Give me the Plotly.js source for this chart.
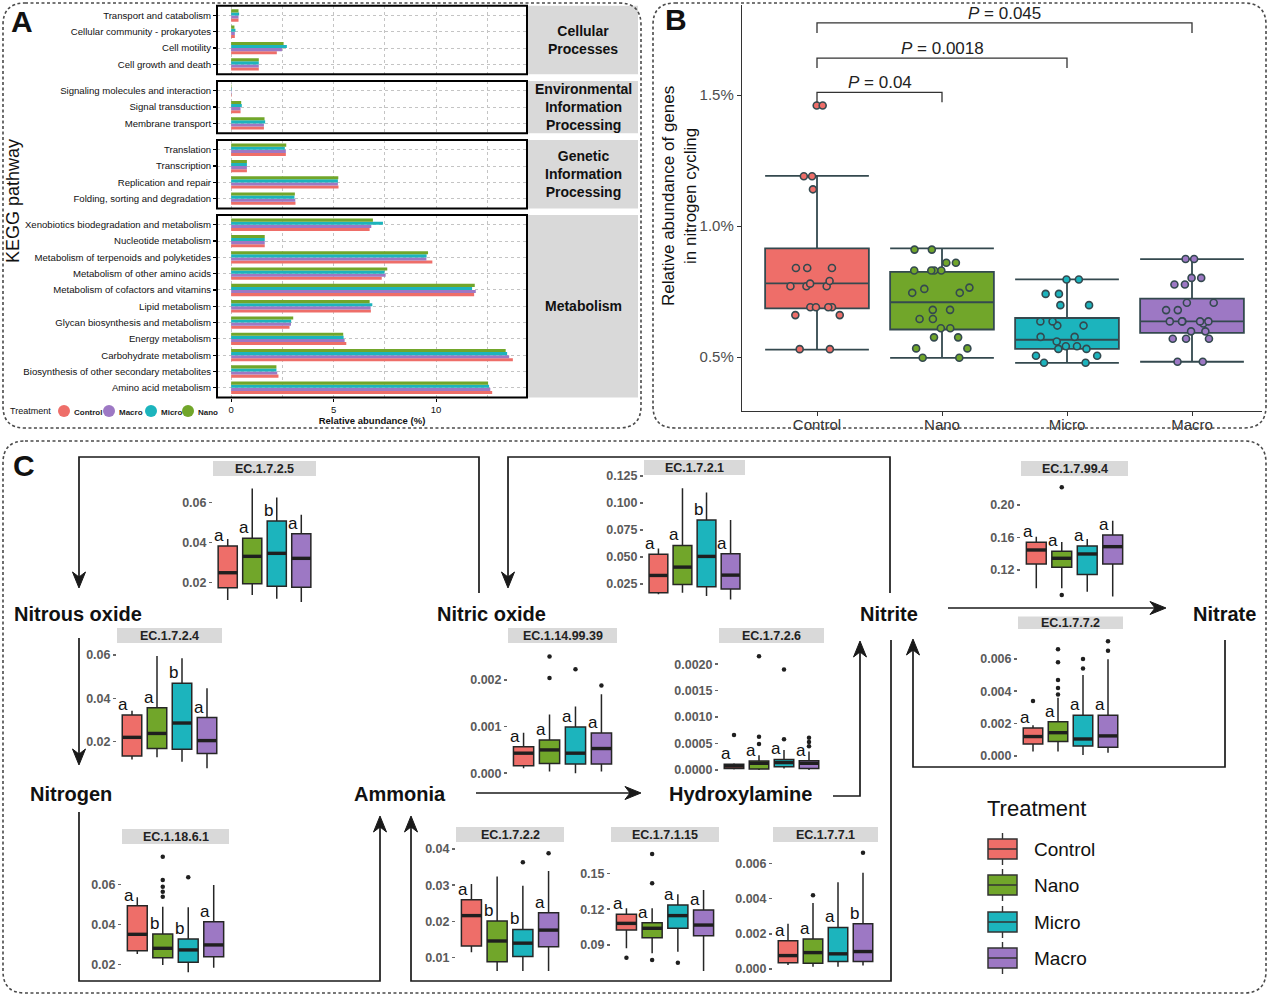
<!DOCTYPE html>
<html><head><meta charset="utf-8">
<script src="https://cdn.plot.ly/plotly-3.0.1.min.js"></script>
<style>html,body{margin:0;padding:0;background:#fff;} #chart{width:1269px;height:995px;}</style>
</head><body><div id="chart"></div>
<script>
const W = 1269, H = 995;
const FONT = 'Liberation Sans, Arial, sans-serif';

// ---------------- Panel A data ----------------
const pathways = [
  'Transport and catabolism','Cellular community - prokaryotes','Cell motility','Cell growth and death',
  'Signaling molecules and interaction','Signal transduction','Membrane transport',
  'Translation','Transcription','Replication and repair','Folding, sorting and degradation',
  'Xenobiotics biodegradation and metabolism','Nucleotide metabolism','Metabolism of terpenoids and polyketides',
  'Metabolism of other amino acids','Metabolism of cofactors and vitamins','Lipid metabolism',
  'Glycan biosynthesis and metabolism','Energy metabolism','Carbohydrate metabolism',
  'Biosynthesis of other secondary metabolites','Amino acid metabolism'];
const facetLabels = ['Cellular<br>Processes','Environmental<br>Information<br>Processing','Genetic<br>Information<br>Processing','Metabolism'];
const facetSizes = [4, 3, 4, 11];
const treatmentsA = ['Control', 'Macro', 'Micro', 'Nano'];
const abundControl = [0.36,0.18,2.23,1.35, 0.02,0.46,1.60, 2.67,0.77,5.24,3.14, 6.76,1.64,9.82,7.35,11.86,6.82,2.85,5.62,13.75,2.31,12.74];
const abundMacro   = [0.36,0.18,2.48,1.35, 0.02,0.46,1.60, 2.67,0.77,5.21,3.13, 6.84,1.64,9.53,7.54,11.94,6.81,2.92,5.54,13.57,2.25,12.65];
const abundMicro   = [0.39,0.21,2.72,1.35, 0.02,0.52,1.66, 2.62,0.77,5.21,3.09, 7.41,1.64,9.54,7.49,11.76,6.89,2.93,5.49,13.47,2.21,12.59];
const abundNano    = [0.36,0.16,2.56,1.35, 0.02,0.49,1.63, 2.69,0.77,5.23,3.11, 6.92,1.64,9.61,7.62,11.89,6.76,3.03,5.47,13.40,2.21,12.54];

// ---------------- Panel B data ----------------
const groups = ['Control', 'Nano', 'Micro', 'Macro'];
const bQ1  = [0.686, 0.605, 0.531, 0.592];
const bMed = [0.781, 0.709, 0.566, 0.636];
const bQ3  = [0.915, 0.825, 0.649, 0.723];
const bLow = [0.528, 0.497, 0.478, 0.482];
const bHigh= [1.191, 0.915, 0.796, 0.874];
const bPtsControl = [1.46,1.46,1.19,1.19,1.14,0.84,0.84,0.84,0.79,0.78,0.77,0.77,0.77,0.69,0.69,0.69,0.69,0.66,0.66,0.53,0.53];
const bPtsNano  = [0.91,0.91,0.86,0.86,0.83,0.83,0.83,0.83,0.765,0.76,0.745,0.745,0.68,0.68,0.645,0.645,0.61,0.61,0.575,0.575,0.533,0.533,0.497,0.497];
const bPtsMicro = [0.796,0.796,0.741,0.741,0.698,0.698,0.636,0.636,0.62,0.62,0.577,0.577,0.559,0.541,0.541,0.531,0.531,0.505,0.505,0.478,0.478];
const bPtsMacro = [0.874,0.874,0.802,0.802,0.777,0.777,0.707,0.707,0.679,0.679,0.636,0.636,0.636,0.636,0.636,0.628,0.598,0.598,0.57,0.57,0.57,0.482,0.482];
const bTickVals = [0.5, 1.0, 1.5];
const bTickText = ['0.5%', '1.0%', '1.5%'];
const pPairs = [[0, 1], [0, 2], [0, 3]];
const pLabels = ['0.04', '0.0018', '0.045'];
const pHeights = [1.51, 1.641, 1.775];

// ---------------- Panel C data ----------------
const ecNames = ['EC.1.7.2.5','EC.1.7.2.4','EC.1.7.2.1','EC.1.7.99.4','EC.1.7.7.2','EC.1.14.99.39','EC.1.7.2.6','EC.1.18.6.1','EC.1.7.2.2','EC.1.7.1.15','EC.1.7.7.1'];
const ecQ1 = [
  [0.0173,0.0193,0.018,0.0175],[0.0134,0.0169,0.0165,0.0146],[0.017,0.0247,0.0225,0.0204],
  [0.1274,0.1233,0.1143,0.1274],[0.00074,0.00089,0.00062,0.00054],[0.00016,0.00021,0.0002,0.0002],
  [0.00003,0.00002,0.00006,0.00003],[0.0268,0.0233,0.021,0.0238],[0.0132,0.0089,0.0103,0.013],
  [0.1026,0.0961,0.104,0.0978],[0.00036,0.00032,0.00042,0.00042]];
const ecMed = [
  [0.0248,0.033,0.0345,0.032],[0.022,0.0238,0.0286,0.0205],[0.033,0.0407,0.0506,0.0333],
  [0.1446,0.1344,0.1397,0.1487],[0.0012,0.00144,0.00105,0.00124],[0.00043,0.0005,0.00043,0.00053],
  [0.000075,0.000126,0.00014,0.000126],[0.035,0.028,0.0272,0.0297],[0.0216,0.0146,0.014,0.0176],
  [0.1081,0.104,0.1146,0.1067],[0.00076,0.00093,0.00086,0.00099]];
const ecQ3 = [
  [0.0382,0.042,0.0507,0.0443],[0.0323,0.0357,0.0469,0.0311],[0.0525,0.0608,0.0843,0.0531],
  [0.154,0.143,0.1495,0.163],[0.00173,0.00212,0.00252,0.00252],[0.00057,0.00071,0.00099,0.00086],
  [0.000107,0.00017,0.0002,0.000176],[0.0493,0.0352,0.0327,0.0413],[0.026,0.0201,0.0178,0.0224],
  [0.1157,0.1087,0.1235,0.1193],[0.0016,0.00171,0.00236,0.00257]];
const ecLow = [
  [0.0112,0.0137,0.0118,0.0102],[0.0118,0.0128,0.0108,0.0077],[0.0157,0.017,0.0139,0.0108],
  [0.0974,0.0974,0.0933,0.0872],[0.00027,0.00027,0.00006,0.0002],[0.00011,0.00004,0,0.00004],
  [0.00001,0,0.00003,0],[0.0252,0.0197,0.016,0.0183],[0.0115,0.0063,0.0063,0.0063],
  [0.0872,0.083,0.0844,0.0682],[0.00023,0.00013,0.00013,0.00019]];
const ecHigh = [
  [0.0417,0.067,0.0625,0.0538],[0.0343,0.0595,0.0585,0.0446],[0.058,0.1136,0.1096,0.0843],
  [0.161,0.1545,0.1582,0.1807],[0.0019,0.0036,0.005,0.00598],[0.00087,0.00126,0.00143,0.00169],
  [0.000126,0.00028,0.00038,0.00035],[0.0535,0.0488,0.0485,0.0597],[0.0303,0.0324,0.0298,0.0339],
  [0.1207,0.1207,0.1324,0.136],[0.00257,0.00375,0.00493,0.00547]];
const ecOutliers = [
  [[],[],[],[]],
  [[],[],[],[]],
  [[],[],[],[]],
  [[],[0.2217,0.0892],[],[]],
  [[0.0034],[0.0038,0.0042,0.0047,0.0058,0.0066],[0.0054,0.006],[0.0065,0.0071]],
  [[],[0.00204,0.0025],[0.00223],[0.00188]],
  [[0.00066],[0.00049,0.00063,0.00215],[0.00058,0.0019],[0.00045,0.00053,0.00061]],
  [[],[0.0538,0.0563,0.0588,0.0622,0.0738],[0.0635],[]],
  [[],[],[0.0363],[0.0388]],
  [[0.0794],[0.1662,0.1416,0.0774],[0.0752],[]],
  [[],[0.00419],[],[0.00661]]];
const ecLetters = [
  ['a','a','b','a'],['a','a','b','a'],['a','a','b','a'],['a','a','a','a'],['a','a','a','a'],
  ['a','a','a','a'],['a','a','a','a'],['a','b','b','a'],['a','b','b','a'],['a','a','a','a'],['a','a','a','b']];
const ecTickVals = [
  [0.02,0.04,0.06],[0.02,0.04,0.06],[0.025,0.05,0.075,0.1,0.125],[0.12,0.16,0.20],[0,0.002,0.004,0.006],
  [0,0.001,0.002],[0,0.0005,0.001,0.0015,0.002],[0.02,0.04,0.06],[0.01,0.02,0.03,0.04],[0.09,0.12,0.15],[0,0.002,0.004,0.006]];
const ecTickText = [
  ['0.02','0.04','0.06'],['0.02','0.04','0.06'],['0.025','0.050','0.075','0.100','0.125'],['0.12','0.16','0.20'],
  ['0.000','0.002','0.004','0.006'],['0.000','0.001','0.002'],['0.0000','0.0005','0.0010','0.0015','0.0020'],
  ['0.02','0.04','0.06'],['0.01','0.02','0.03','0.04'],['0.09','0.12','0.15'],['0.000','0.002','0.004','0.006']];
const nodeNames = ['Nitrous oxide','Nitric oxide','Nitrite','Nitrate','Nitrogen','Ammonia','Hydroxylamine'];

// ---------------- styles / geometry ----------------
const colors = {Control:'#EE6E69', Nano:'#71A62A', Micro:'#1CB4BD', Macro:'#9D78C4'};
const fx = p => p / W;
const fy = p => 1 - p / H;
const ax = n => n === 1 ? '' : String(n);
const P = (x, y) => fx(x).toFixed(5) + ',' + fy(y).toFixed(5);

const traces = [];
const shapes = [];
const annotations = [];
const layout = {
  width: W, height: H, margin: {l:0, r:0, t:0, b:0},
  paper_bgcolor: '#fff', plot_bgcolor: 'rgba(0,0,0,0)',
  font: {family: FONT, color: '#111'},
  showlegend: false, barmode: 'group', bargap: 0.24, bargroupgap: 0,
  boxmode: 'overlay'
};

function ann(o) { annotations.push(Object.assign({xref:'paper', yref:'paper', showarrow:false}, o)); }
function rectPx(x0, y0, x1, y1, o) {
  shapes.push(Object.assign({type:'rect', xref:'paper', yref:'paper', x0:fx(x0), x1:fx(x1), y0:fy(y1), y1:fy(y0)}, o));
}
function roundRect(x0, y0, x1, y1, r) {
  const d = 'M' + P(x0 + r, y0) + 'L' + P(x1 - r, y0) + 'Q' + P(x1, y0) + ' ' + P(x1, y0 + r) +
    'L' + P(x1, y1 - r) + 'Q' + P(x1, y1) + ' ' + P(x1 - r, y1) +
    'L' + P(x0 + r, y1) + 'Q' + P(x0, y1) + ' ' + P(x0, y1 - r) +
    'L' + P(x0, y0 + r) + 'Q' + P(x0, y0) + ' ' + P(x0 + r, y0) + 'Z';
  shapes.push({type:'path', xref:'paper', yref:'paper', path:d, line:{color:'#4a4a4a', width:1.6, dash:'3px,2.5px'}, layer:'above'});
}

// ---------------- Panel A ----------------
const abundA = {Control: abundControl, Macro: abundMacro, Micro: abundMicro, Nano: abundNano};
const facetTop = [5.7, 81, 140, 215];
const rowPx = 16.3;
const aX0 = 217, aX1 = 527;
let start = 0;
facetSizes.forEach((n, f) => {
  const k = f + 1;
  const cats = pathways.slice(start, start + n);
  const top = facetTop[f], bot = top + (n + 0.2) * rowPx;
  treatmentsA.forEach(t => {
    traces.push({type:'bar', orientation:'h', y:cats, x:abundA[t].slice(start, start + n),
      xaxis:'x' + ax(k), yaxis:'y' + ax(k), marker:{color:colors[t], line:{width:0}}, hoverinfo:'skip'});
  });
  const isLast = f === facetSizes.length - 1;
  layout['xaxis' + ax(k)] = {
    domain:[fx(aX0), fx(aX1)], range:[-0.69, 14.44], anchor:'y' + ax(k),
    tick0:0, dtick:5, showgrid:true, gridcolor:'#c4c4c4', griddash:'dot', gridwidth:1,
    minor:{dtick:2.5, showgrid:true, gridcolor:'#c4c4c4', griddash:'dot', gridwidth:1},
    zeroline:false, showline:false, showticklabels:isLast, ticks:isLast ? 'outside' : '',
    ticklen:3, tickcolor:'#000', tickfont:{size:9.5, color:'#111', family:FONT},
    title: isLast ? {text:'Relative abundance (%)', font:{size:9.5, weight:'bold', color:'#111'}, standoff:2} : {text:''}
  };
  layout['yaxis' + ax(k)] = {
    domain:[fy(bot), fy(top)], type:'category', categoryorder:'array', categoryarray:cats.slice().reverse(),
    range:[-0.6, n - 0.4], anchor:'x' + ax(k), showgrid:true, gridcolor:'#c4c4c4', griddash:'dot', gridwidth:1,
    zeroline:false, ticks:'outside', ticklen:3, tickwidth:1.2, tickcolor:'#000',
    tickfont:{size:9.6, color:'#111', family:FONT}
  };
  rectPx(aX0, top, aX1, bot, {line:{color:'#000', width:2}, layer:'above'});
  rectPx(528, top, 638, bot, {fillcolor:'#D9D9D9', line:{width:0}, layer:'below'});
  ann({x:fx(583), y:fy((top + bot) / 2), text:facetLabels[f], font:{size:14, weight:'bold', color:'#111'}, xanchor:'center', yanchor:'middle'});
  start += n;
});
ann({x:fx(13), y:fy(201), text:'KEGG pathway', textangle:-90, font:{size:18, color:'#111'}, xanchor:'center', yanchor:'middle'});
ann({x:fx(8), y:fy(411), text:'Treatment', font:{size:9, color:'#111'}, xanchor:'left', yanchor:'middle'});
const aLegX = [64, 109, 151, 188];
treatmentsA.forEach((t, i) => {
  shapes.push({type:'circle', xref:'paper', yref:'paper', x0:fx(aLegX[i] - 6), x1:fx(aLegX[i] + 6), y0:fy(417), y1:fy(405), fillcolor:colors[t], line:{width:0}});
  ann({x:fx(aLegX[i] + 8), y:fy(412), text:t, font:{size:8, weight:'bold', color:'#222'}, xanchor:'left', yanchor:'middle'});
});

// ---------------- Panel B ----------------
const bPts = {Control:bPtsControl, Nano:bPtsNano, Micro:bPtsMicro, Macro:bPtsMacro};
groups.forEach((g, i) => {
  traces.push({type:'box', x:[g], q1:[bQ1[i]], median:[bMed[i]], q3:[bQ3[i]], lowerfence:[bLow[i]], upperfence:[bHigh[i]],
    xaxis:'x5', yaxis:'y5', fillcolor:colors[g], line:{color:'#34494f', width:1.8}, whiskerwidth:1, width:0.83,
    boxpoints:false, hoverinfo:'skip'});
});
groups.forEach((g, i) => {
  traces.push({type:'box', x:bPts[g].map(() => g), y:bPts[g], xaxis:'x5', yaxis:'y5', boxpoints:'all', jitter:0.75, pointpos:0,
    width:0.83, fillcolor:'rgba(0,0,0,0)', line:{width:0, color:'rgba(0,0,0,0)'},
    marker:{color:colors[g], size:7, line:{color:'#34494f', width:1.6}}, hoverinfo:'skip'});
});
layout.xaxis5 = {domain:[fx(742), fx(1262)], type:'category', categoryorder:'array', categoryarray:groups, range:[-0.6, 3.56],
  anchor:'y5', showline:true, linecolor:'#333', linewidth:1.2, ticks:'outside', ticklen:4, tickcolor:'#333',
  ticklabelstandoff:-4, tickfont:{size:15, color:'#333'}, showgrid:false, zeroline:false};
layout.yaxis5 = {domain:[fy(411), fy(5)], range:[0.294, 1.8435], anchor:'x5', tickvals:bTickVals, ticktext:bTickText,
  showline:true, linecolor:'#333', linewidth:1.2, ticks:'outside', ticklen:4, tickcolor:'#333',
  tickfont:{size:15, color:'#4d4d4d'}, showgrid:false, zeroline:false};
pPairs.forEach((pr, j) => {
  const h = pHeights[j], drop = 0.038;
  shapes.push({type:'path', xref:'x5', yref:'y5', layer:'above', line:{color:'#333', width:1.3},
    path:`M${pr[0]},${h - drop}L${pr[0]},${h}L${pr[1]},${h}L${pr[1]},${h - drop}`});
  annotations.push({xref:'x5', yref:'y5', x:(pr[0] + pr[1]) / 2, y:h, yanchor:'bottom', xanchor:'center', showarrow:false,
    text:'<i>P</i> = ' + pLabels[j], font:{size:17, color:'#222'}, yshift:-2});
});
ann({x:fx(679), y:fy(196), text:'Relative abundance of genes<br>in nitrogen cycling', textangle:-90, font:{size:17, color:'#111'}, xanchor:'center', yanchor:'middle'});

// ---------------- Panel C ----------------
const ecGeom = [
  {x0:213, x1:316, top:476, bot:607, lo:0.00765, hi:0.0732},
  {x0:117, x1:222, top:643, bot:774, lo:0.0051, hi:0.0655},
  {x0:644, x1:745, top:475, bot:605, lo:0.00566, hi:0.1259},
  {x0:1021, x1:1128, top:476, bot:601, lo:0.0818, hi:0.2357},
  {x0:1018, x1:1123, top:629, bot:760, lo:-0.00025, hi:0.00785, stripH:12.5},
  {x0:508, x1:617, top:643, bot:777, lo:-0.00008, hi:0.00279},
  {x0:719, x1:824, top:643, bot:773, lo:-0.000057, hi:0.0024},
  {x0:122, x1:229, top:844, bot:976, lo:0.01415, hi:0.0802},
  {x0:456, x1:564, top:842, bot:975, lo:0.00522, hi:0.0419},
  {x0:611, x1:719, top:842, bot:975, lo:0.0649, hi:0.1762},
  {x0:773, x1:878, top:842, bot:973, lo:-0.00023, hi:0.00722}];
const boxW = 0.78;
ecNames.forEach((name, e) => {
  const k = 6 + e, g = ecGeom[e];
  const xa = 'x' + k, ya = 'y' + k;
  groups.forEach((grp, i) => {
    traces.push({type:'box', x:[i], q1:[ecQ1[e][i]], median:[ecMed[e][i]], q3:[ecQ3[e][i]],
      lowerfence:[ecLow[e][i]], upperfence:[ecHigh[e][i]], xaxis:xa, yaxis:ya, fillcolor:colors[grp],
      line:{color:'#262626', width:1.5}, whiskerwidth:0, width:boxW, boxpoints:false, hoverinfo:'skip'});
    traces.push({type:'scatter', mode:'lines', x:[i - boxW / 2, i + boxW / 2], y:[ecMed[e][i], ecMed[e][i]],
      xaxis:xa, yaxis:ya, line:{color:'#1f1f1f', width:3.4}, hoverinfo:'skip'});
    if (ecOutliers[e][i].length) {
      traces.push({type:'scatter', mode:'markers', x:ecOutliers[e][i].map(() => i), y:ecOutliers[e][i],
        xaxis:xa, yaxis:ya, marker:{color:'#1f1f1f', size:4.5}, hoverinfo:'skip'});
    }
    annotations.push({xref:xa, yref:ya, x:i - 0.34, y:ecQ3[e][i], yanchor:'bottom', xanchor:'center', showarrow:false,
      text:ecLetters[e][i], font:{size:17, color:'#111'}, yshift:-1});
  });
  layout['xaxis' + k] = {domain:[fx(g.x0), fx(g.x1)], range:[-0.6, 3.6], anchor:ya, visible:false};
  layout['yaxis' + k] = {domain:[fy(g.bot), fy(g.top)], range:[g.lo, g.hi], anchor:xa, tickvals:ecTickVals[e], ticktext:ecTickText[e],
    ticks:'outside', ticklen:3, tickwidth:1.6, tickcolor:'#666', tickfont:{size:12.5, color:'#5a5a5a', weight:'bold'},
    showgrid:false, zeroline:false, showline:false};
  const sh = g.stripH || 15;
  rectPx(g.x0, g.top - sh, g.x1, g.top, {fillcolor:'#D9D9D9', line:{width:0}, layer:'below'});
  ann({x:fx((g.x0 + g.x1) / 2), y:fy(g.top - sh / 2), text:name, font:{size:12.5, weight:'bold', color:'#222'}, xanchor:'center', yanchor:'middle'});
});

// nodes of the nitrogen cycle
const nodePos = [[78, 614], [491, 614], [889, 614], [1224, 614], [71, 794], [400, 794], [741, 794]];
nodeNames.forEach((nm, i) => {
  ann({x:fx(nodePos[i][0]), y:fy(nodePos[i][1]), text:nm, font:{size:20, weight:'bold', color:'#111'}, xanchor:'center', yanchor:'middle'});
});

// arrows
function polyline(pts) {
  shapes.push({type:'path', xref:'paper', yref:'paper', layer:'above', line:{color:'#1a1a1a', width:1.7},
    path:'M' + pts.map(p => P(p[0], p[1])).join('L')});
}
function head(x, y, dx, dy) {
  const L = 16, w = 6.5, notch = 5;
  const nx = -dy, ny = dx;
  const p1 = [x - L * dx + w * nx, y - L * dy + w * ny];
  const p2 = [x - (L - notch) * dx, y - (L - notch) * dy];
  const p3 = [x - L * dx - w * nx, y - L * dy - w * ny];
  shapes.push({type:'path', xref:'paper', yref:'paper', layer:'above', fillcolor:'#1a1a1a', line:{color:'#1a1a1a', width:1},
    path:'M' + P(x, y) + 'L' + P(p1[0], p1[1]) + 'L' + P(p2[0], p2[1]) + 'L' + P(p3[0], p3[1]) + 'Z'});
}
const arrows = [
  [[479,593],[479,457],[79,457],[79,588]],
  [[79,638],[79,765]],
  [[890,593],[890,457],[508,457],[508,588]],
  [[79,812],[79,981],[380,981],[380,816]],
  [[891,640],[891,981],[411,981],[411,816]],
  [[476,793],[641,793]],
  [[833,796],[860,796],[860,641]],
  [[948,608],[1166,608]],
  [[1225,640],[1225,767],[913,767],[913,639]]];
arrows.forEach(pts => {
  const a = pts[pts.length - 2], b = pts[pts.length - 1];
  const len = Math.hypot(b[0] - a[0], b[1] - a[1]);
  const dx = (b[0] - a[0]) / len, dy = (b[1] - a[1]) / len;
  const body = pts.slice(0, -1).concat([[b[0] - 10 * dx, b[1] - 10 * dy]]);
  polyline(body);
  head(b[0], b[1], dx, dy);
});

// Panel C legend
ann({x:fx(985), y:fy(808), text:'Treatment', font:{size:22, color:'#111'}, xanchor:'left', yanchor:'middle'});
const legY = [849, 885, 922, 958];
groups.forEach((g, i) => {
  const c = legY[i];
  shapes.push({type:'line', xref:'paper', yref:'paper', x0:fx(1002.5), x1:fx(1002.5), y0:fy(c - 16), y1:fy(c + 16), line:{color:'#333', width:1.4}});
  rectPx(988, c - 10, 1017, c + 10, {fillcolor:colors[g], line:{color:'#333', width:1.5}});
  shapes.push({type:'line', xref:'paper', yref:'paper', x0:fx(988), x1:fx(1017), y0:fy(c), y1:fy(c), line:{color:'#333', width:1.5}});
  ann({x:fx(1032), y:fy(c), text:g, font:{size:19, color:'#111'}, xanchor:'left', yanchor:'middle'});
});

// panel frames and letters
roundRect(3, 3, 641, 428, 22);
roundRect(653, 3, 1266, 428, 22);
roundRect(3, 441, 1266, 993, 22);
ann({x:fx(22), y:fy(21), text:'A', font:{size:30, weight:'bold', color:'#111'}, xanchor:'center', yanchor:'middle'});
ann({x:fx(676), y:fy(20), text:'B', font:{size:30, weight:'bold', color:'#111'}, xanchor:'center', yanchor:'middle'});
ann({x:fx(24), y:fy(466), text:'C', font:{size:30, weight:'bold', color:'#111'}, xanchor:'center', yanchor:'middle'});

layout.shapes = shapes;
layout.annotations = annotations;
Plotly.newPlot('chart', traces, layout, {staticPlot:true, displayModeBar:false});
</script></body></html>
